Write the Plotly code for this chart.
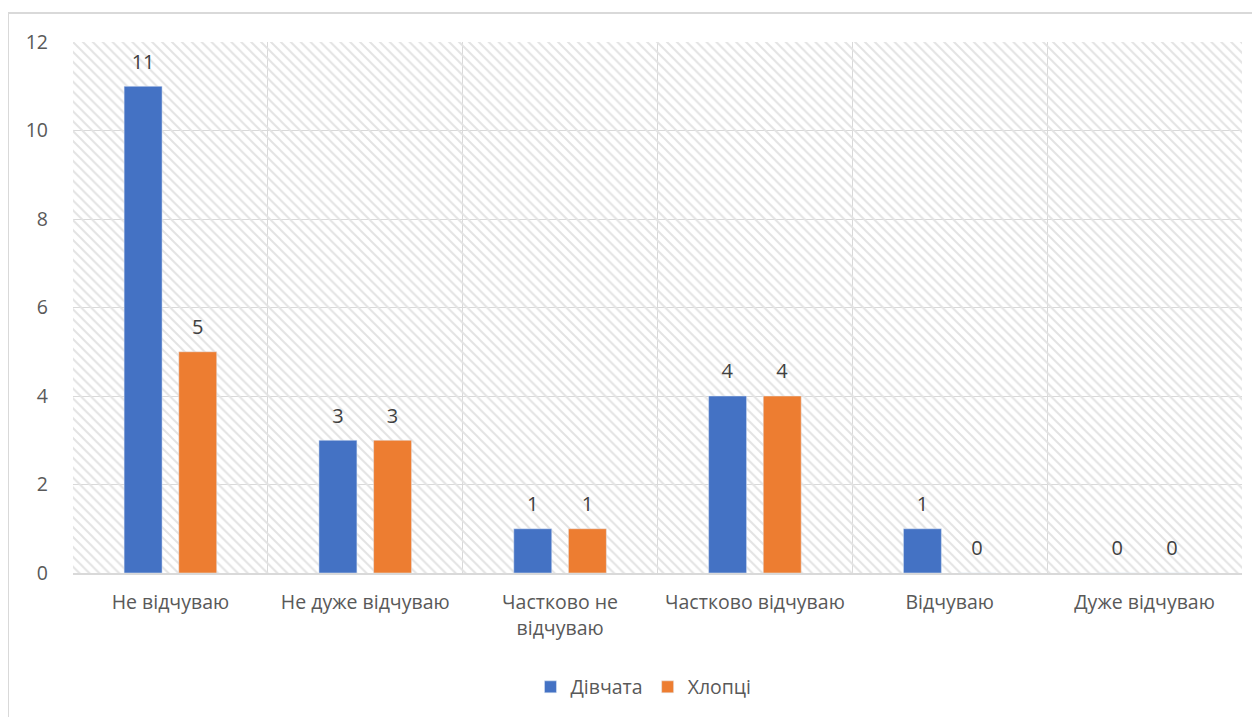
import plotly.graph_objects as go

categories = ["Не відчуваю", "Не дуже відчуваю", "Частково не<br>відчуваю",
              "Частково відчуваю", "Відчуваю", "Дуже відчуваю"]
girls = [11, 3, 1, 4, 1, 0]
boys = [5, 3, 1, 4, 0, 0]
series_names = ["Дівчата", "Хлопці"]
y_ticks = [0, 2, 4, 6, 8, 10, 12]

FONT = "Open Sans"
GREY = "#595959"
FS = 19.5
LABEL_TPL = "<span style='font-size:20px'>%{y}</span><br> "

fig = go.Figure()

# hatched plot-area background (style only) on hidden main axes
fig.add_trace(go.Bar(
    x=[0.5], y=[max(y_ticks)], width=[1], xaxis="x", yaxis="y",
    marker=dict(color="rgba(0,0,0,0)", line=dict(width=0),
                pattern=dict(shape="\\", fgcolor="#e3e3e3", bgcolor="rgba(0,0,0,0)",
                             size=7, solidity=0.28, fillmode="replace")),
    showlegend=False, hoverinfo="skip",
))

fig.add_trace(go.Bar(
    x=categories, y=girls, name=series_names[0], xaxis="x2", yaxis="y",
    marker=dict(color="#4472C4"), texttemplate=LABEL_TPL, textposition="outside",
    textfont=dict(family=FONT, size=9, color="#404040"), cliponaxis=False,
))
fig.add_trace(go.Bar(
    x=categories, y=boys, name=series_names[1], xaxis="x2", yaxis="y",
    marker=dict(color="#ED7D31"), texttemplate=LABEL_TPL, textposition="outside",
    textfont=dict(family=FONT, size=9, color="#404040"), cliponaxis=False,
))

fig.update_layout(
    width=1260, height=717,
    margin=dict(l=65, r=26, t=34, b=152, autoexpand=False),
    paper_bgcolor="white", plot_bgcolor="white",
    font=dict(family=FONT, size=FS, color=GREY),
    barmode="group", bargap=0.439, bargroupgap=0.305,
    xaxis=dict(range=[0, 1], visible=False, showgrid=False, zeroline=False,
               automargin=False),
    xaxis2=dict(overlaying="x", type="category", tickson="boundaries",
                showgrid=True, gridcolor="#d9d9d9", gridwidth=1,
                showline=True, linecolor="#d9d9d9", linewidth=2,
                ticks="", tickangle=0, automargin=False,
                tickfont=dict(family=FONT, size=FS, color=GREY),
                ticklabelstandoff=11, side="bottom"),
    yaxis=dict(range=[0, 12], tickvals=y_ticks, showgrid=True, gridcolor="#d9d9d9",
               gridwidth=1, zeroline=False, showline=False, ticks="", automargin=False,
               tickfont=dict(family=FONT, size=FS, color=GREY), ticklabelstandoff=24),
    legend=dict(orientation="h", x=0.488, xanchor="center", y=-0.215, yanchor="middle",
                font=dict(family=FONT, size=FS, color=GREY), itemwidth=30,
                traceorder="normal"),
    shapes=[dict(type="rect", xref="paper", yref="paper",
                 x0=-0.0556, x1=1.03, y0=-0.3, y1=1.0546,
                 line=dict(color="#d9d9d9", width=2), fillcolor="rgba(0,0,0,0)",
                 layer="below")],
)

fig.write_html("out.html")
